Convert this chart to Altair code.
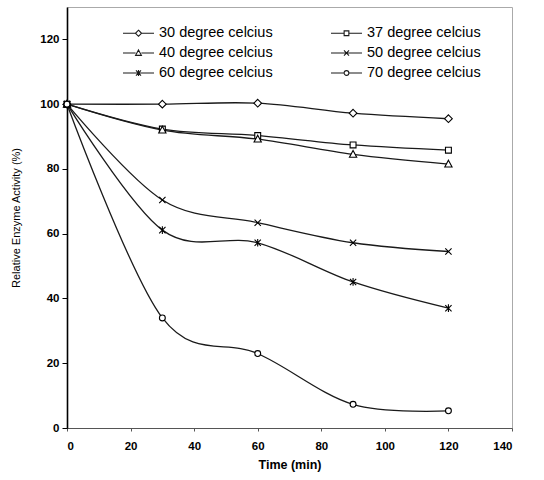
import altair as alt
import pandas as pd

# ---------------- data ----------------
times = [0, 30, 60, 90, 120]
series_names = ["30 degree celcius", "37 degree celcius", "40 degree celcius",
                "50 degree celcius", "60 degree celcius", "70 degree celcius"]
act_30 = [100, 100.0, 100.3, 97.2, 95.5]
act_37 = [100, 92.3, 90.3, 87.4, 85.8]
act_40 = [100, 92.0, 89.2, 84.5, 81.5]
act_50 = [100, 70.4, 63.4, 57.2, 54.5]
act_60 = [100, 61.1, 57.2, 45.1, 37.0]
act_70 = [100, 34.0, 23.0, 7.3, 5.3]
x_ticks = [0, 20, 40, 60, 80, 100, 120, 140]
y_ticks = [0, 20, 40, 60, 80, 100, 120]

all_values = [act_30, act_37, act_40, act_50, act_60, act_70]
rows = []
for name, vals in zip(series_names, all_values):
    for t, v in zip(times, vals):
        rows.append({"time": t, "activity": v, "series": name})
df = pd.DataFrame(rows)

# ---------------- marker shapes (style) ----------------
def shape_paths(dx, k=1.0):
    r = 0.55 * k
    d = f"M{dx},{-r}L{dx+r},0L{dx},{r}L{dx-r},0Z"
    s = 0.42 * k
    sq = f"M{dx-s},{-s}L{dx+s},{-s}L{dx+s},{s}L{dx-s},{s}Z"
    tt, tw, tb = 0.55 * k, 0.52 * k, 0.42 * k
    tr = f"M{dx},{-tt}L{dx+tw},{tb}L{dx-tw},{tb}Z"
    x = 0.45 * k
    cr = f"M{dx-x},{-x}L{dx+x},{x}M{dx-x},{x}L{dx+x},{-x}"
    v = 0.55 * k
    st = cr + f"M{dx},{-v}L{dx},{v}"
    c = 0.42 * k
    ci = f"M{dx+c},0A{c},{c} 0 1,1 {dx-c},0A{c},{c} 0 1,1 {dx+c},0Z"
    return [d, sq, tr, cr, st, ci]

plot_paths = shape_paths(0)
K = 0.8
DX = 1.214
LEND = 3.43
gaps = [0.55 * K, 0.42 * K, 0.52 * K, 0.0, 0.0, 0.42 * K]
legend_paths = []
for p, g in zip(shape_paths(DX, K), gaps):
    legend_paths.append(f"M-1,0L{DX-g:.3f},0M{DX+g:.3f},0L{LEND},0" + p)

arr_names = "[" + ",".join(f"'{n}'" for n in series_names) + "]"
arr_legend = "[" + ",".join(f"'{p}'" for p in legend_paths) + "]"
arr_plot = "[" + ",".join(f"'{p}'" for p in plot_paths) + "]"
legend_shape_expr = f"{arr_legend}[indexof({arr_names}, datum.value)]"
plot_shape_expr = f"{arr_plot}[indexof({arr_names}, datum.series)]"

FONT = "Liberation Sans"

x_enc = alt.X("time:Q", scale=alt.Scale(domain=[0, 140], nice=False),
              axis=alt.Axis(values=x_ticks, title="Time (min)"))
y_enc = alt.Y("activity:Q", scale=alt.Scale(domain=[0, 130], nice=False),
              axis=alt.Axis(values=y_ticks, title="Relative Enzyme Activity (%)"))

lines = alt.Chart(df).mark_line(interpolate="cardinal", strokeWidth=1.3).encode(
    x=x_enc, y=y_enc,
    color=alt.Color("series:N", sort=series_names,
                    scale=alt.Scale(domain=series_names, range=["#1a1a1a"] * 6),
                    legend=alt.Legend(
                        title=None, orient="none", legendX=55, legendY=18,
                        columns=2, direction="horizontal",
                        columnPadding=55, rowPadding=5, padding=0,
                        symbolSize=196, labelOffset=21, labelFont=FONT,
                        labelFontSize=14.5, labelColor="black", labelLimit=300,
                        symbolType=alt.ExprRef(legend_shape_expr),
                        symbolStrokeColor="black", symbolFillColor="white",
                        symbolStrokeWidth=1.1,
                    ))
)

points = alt.Chart(df).transform_calculate(
    shp=plot_shape_expr
).mark_point(filled=False, fill="white", fillOpacity=1, stroke="black",
             strokeWidth=1.1, size=196, opacity=1).encode(
    x=x_enc, y=y_enc,
    shape=alt.Shape("shp:N", scale=None, legend=None)
)

chart = (lines + points).properties(
    width=445, height=421,
    autosize=alt.AutoSizeParams(type="none"),
    padding={"left": 67, "top": 7, "right": 32, "bottom": 52},
).configure_view(stroke="#aaaaaa", strokeWidth=1).configure_axis(
    labelFont=FONT, labelFontSize=11.5, labelFontWeight="bold", labelColor="black",
    titleFont=FONT, titleColor="black", tickColor="black", tickSize=5,
    domainColor="black", grid=False, labelPadding=3,
).configure_axisX(
    titleFontSize=12.5, titleFontWeight="bold", titlePadding=7, domainWidth=1,
    domainColor="#555555", tickColor="#555555",
    labelPadding=9, tickSize=3,
).configure_axisY(
    titleFontSize=11, titleFontWeight="normal", titlePadding=18, domainWidth=1.6,
)

chart.save("out.html", embed_options={"renderer": "svg", "actions": False})
